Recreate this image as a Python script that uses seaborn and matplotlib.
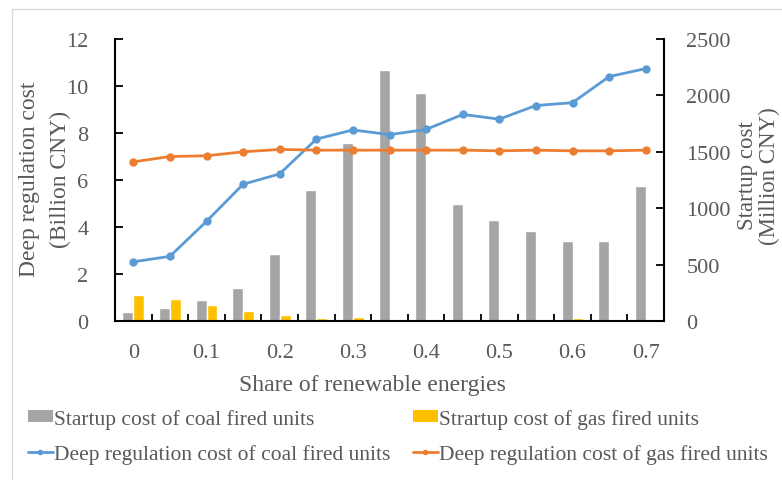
import numpy as np
import pandas as pd
import matplotlib
matplotlib.use("Agg")
import matplotlib.pyplot as plt
import seaborn as sns
from matplotlib.patches import Patch, Rectangle
from matplotlib.lines import Line2D

# Share of renewable energies (categories)
share_labels = ["0", "0.05", "0.1", "0.15", "0.2", "0.25", "0.3", "0.35",
                "0.4", "0.45", "0.5", "0.55", "0.6", "0.65", "0.7"]
shown_ticks = ["0", "0.1", "0.2", "0.3", "0.4", "0.5", "0.6", "0.7"]

# Startup cost (Million CNY) - right axis
coal_startup = [80, 115, 183, 296, 595, 1163, 1577, 2228,
                2024, 1036, 893, 796, 710, 707, 1198]
gas_startup = [228, 192, 142, 89, 56, 24, 35, 0,
               0, 0, 0, 0, 25, 0, 0]

# Deep regulation cost (Billion CNY) - left axis
coal_deep = [2.52, 2.75, 4.24, 5.82, 6.26, 7.74, 8.13, 7.93,
             8.15, 8.79, 8.59, 9.17, 9.29, 10.40, 10.74]
gas_deep = [6.77, 7.00, 7.03, 7.20, 7.30, 7.27, 7.27, 7.27,
            7.27, 7.27, 7.24, 7.27, 7.24, 7.24, 7.27]

series_names = ["Startup cost of coal fired units",
                "Strartup cost of gas fired units",
                "Deep regulation cost of coal fired units",
                "Deep regulation cost of gas fired units"]

sns.set_theme(style="white")
plt.rcParams["font.family"] = ["Liberation Serif", "DejaVu Serif"]

TEXT = "#595959"
GRAY, GOLD, BLUE, ORANGE = "#A5A5A5", "#FFC000", "#5B9BD5", "#ED7D31"

W, H = 782, 481
fig = plt.figure(figsize=(W / 100, H / 100), dpi=100)
ax_bar = fig.add_axes([115 / W, 1 - 322 / H, (664 - 115) / W, (322 - 40) / H])
ax_line = ax_bar.twinx()

# Bars: startup costs
n = len(share_labels)
bars = pd.DataFrame({
    "share": share_labels * 2,
    "cost": coal_startup + gas_startup,
    "kind": [series_names[0]] * n + [series_names[1]] * n,
})
sns.barplot(data=bars, x="share", y="cost", hue="kind", order=share_labels,
            palette=[GRAY, GOLD], width=0.6, saturation=1, gap=0,
            legend=False, ax=ax_bar)

# Lines: deep regulation costs
pos = np.arange(n)
lines = pd.DataFrame({
    "pos": np.concatenate([pos, pos]),
    "cost": coal_deep + gas_deep,
    "kind": [series_names[2]] * n + [series_names[3]] * n,
})
sns.lineplot(data=lines, x="pos", y="cost", hue="kind",
             palette=[BLUE, ORANGE], marker="o", markersize=6,
             markeredgewidth=0, linewidth=2, legend=False, ax=ax_line)

# Axis limits and ticks
ax_bar.set_xlim(-0.5, n - 0.5)
ax_bar.set_ylim(0, 2500)
ax_bar.set_yticks(np.arange(0, 2501, 500))
ax_line.set_ylim(0, 12)
ax_line.set_yticks(np.arange(0, 13, 2))

ax_bar.set_xticks(np.arange(0, n, 2))
ax_bar.set_xticklabels(shown_ticks)
ax_bar.set_xticks(np.arange(0.5, n - 1, 1), minor=True)
ax_bar.tick_params(axis="x", which="major", length=0, pad=16,
                   labelsize=16, labelcolor=TEXT)
ax_bar.tick_params(axis="x", which="minor", direction="in", length=5,
                   width=1.3, color="black", bottom=True)

# Startup axis on the right, deep regulation axis on the left
ax_bar.yaxis.tick_right()
ax_bar.tick_params(axis="y", direction="in", length=6, width=1.3,
                   color="black", pad=16, labelsize=16, labelcolor=TEXT,
                   right=True, left=False)
ax_line.yaxis.tick_left()
ax_line.tick_params(axis="y", direction="in", length=6, width=1.3,
                    color="black", pad=19, labelsize=16, labelcolor=TEXT,
                    left=True, right=False)
ax_line.tick_params(axis="x", which="both", bottom=False, top=False,
                    labelbottom=False)

for a in (ax_bar, ax_line):
    a.set_xlabel("")
    a.set_ylabel("")
    a.grid(False)
for side in ("left", "right", "bottom"):
    ax_bar.spines[side].set_visible(True)
    ax_bar.spines[side].set_color("black")
    ax_bar.spines[side].set_linewidth(1.5)
ax_bar.spines["top"].set_visible(False)
for s in ax_line.spines.values():
    s.set_visible(False)

# Axis titles
fig.text(30 / W, 1 - 179 / H, "Deep regulation cost", rotation=90,
         ha="center", va="center", fontsize=17, color=TEXT)
fig.text(60 / W, 1 - 179 / H, "(Billion CNY)", rotation=90,
         ha="center", va="center", fontsize=17, color=TEXT)
fig.text(747 / W, 1 - 176 / H, "Startup cost", rotation=90,
         ha="center", va="center", fontsize=16.5, color=TEXT)
fig.text(769 / W, 1 - 176 / H, "(Million CNY)", rotation=90,
         ha="center", va="center", fontsize=16.5, color=TEXT)
fig.text(372 / W, 1 - 386 / H, "Share of renewable energies",
         ha="center", va="center", fontsize=17, color=TEXT)

# Legend in two columns below the chart
h_coal_bar = Patch(facecolor=GRAY, edgecolor="none")
h_gas_bar = Patch(facecolor=GOLD, edgecolor="none")
h_coal_line = Line2D([], [], color=BLUE, lw=2, marker="o", markersize=4,
                     markeredgewidth=0)
h_gas_line = Line2D([], [], color=ORANGE, lw=2, marker="o", markersize=4,
                    markeredgewidth=0)
leg_kw = dict(frameon=False, loc="upper left", fontsize=15.5,
              labelcolor=TEXT, handlelength=1.15, handleheight=0.5,
              handletextpad=0.08, labelspacing=0.7, borderpad=0,
              borderaxespad=0)
fig.legend([h_coal_bar, h_coal_line], [series_names[0], series_names[2]],
           bbox_to_anchor=(28 / W, 1 - 410 / H), **leg_kw)
fig.legend([h_gas_bar, h_gas_line], [series_names[1], series_names[3]],
           bbox_to_anchor=(413 / W, 1 - 410 / H), **leg_kw)

# Chart frame
fig.add_artist(Rectangle((12 / W, -0.1), 1.2, 1 - 10 / H + 0.1,
                         transform=fig.transFigure, fill=False,
                         edgecolor="#D9D9D9", linewidth=1))

fig.savefig("out.png", dpi=100)
